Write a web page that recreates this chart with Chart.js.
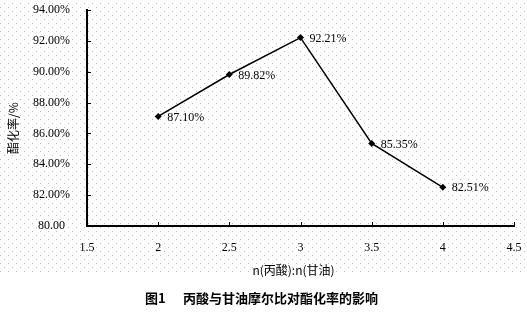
<!DOCTYPE html>
<html>
<head>
<meta charset="utf-8">
<script src="https://cdn.jsdelivr.net/npm/chart.js@4.4.0/dist/chart.umd.min.js"></script>
<style>
html,body{margin:0;padding:0;background:#fff;}
#wrap{width:527px;height:312px;position:relative;}
</style>
</head>
<body>
<div id="wrap"><canvas id="c" width="527" height="312"></canvas></div>
<script>
// ---- data ----
const ratios = [2, 2.5, 3, 3.5, 4];
const esterRate = [87.10, 89.82, 92.21, 85.35, 82.51];
const pointLabels = ['87.10%', '89.82%', '92.21%', '85.35%', '82.51%'];
const xTickLabels = {1.5:'1.5', 2:'2', 2.5:'2.5', 3:'3', 3.5:'3.5', 4:'4', 4.5:'4.5'};
const yTickLabels = {80:'80.00', 82:'82.00%', 84:'84.00%', 86:'86.00%', 88:'88.00%', 90:'90.00%', 92:'92.00%', 94:'94.00%'};
const xTitle = 'n(丙酸):n(甘油)';
const yTitle = '酯化率/%';
const captionNo = '图1';
const captionText = '丙酸与甘油摩尔比对酯化率的影响';

const numFamily = '"Liberation Serif", serif';
const numFont = {family: numFamily, size: 12};
const cjk = '"Noto Sans CJK SC", sans-serif';

const decor = {
  id: 'decor',
  beforeDraw(chart) {
    const ctx = chart.ctx;
    ctx.save();
    ctx.fillStyle = '#b8b8b8';
    for (let y = 3, k = -1; y <= 271; y += 4, k++) {
      const off = ((k % 2) + 2) % 2 === 0 ? 0 : 4;
      for (let x = off; x < 527; x += 8) ctx.fillRect(x, y, 1, 1);
    }
    ctx.restore();
  },
  afterDraw(chart) {
    const ctx = chart.ctx;
    const xs = chart.scales.x, ys = chart.scales.y;
    const ca = chart.chartArea;
    ctx.save();
    ctx.strokeStyle = '#000';
    ctx.lineWidth = 1;
    ys.ticks.forEach(t => {
      const py = Math.round(ys.getPixelForValue(t.value)) + 0.5;
      ctx.beginPath(); ctx.moveTo(ca.left, py); ctx.lineTo(ca.left + 4, py); ctx.stroke();
    });
    xs.ticks.forEach(t => {
      const px = Math.round(xs.getPixelForValue(t.value)) + 0.5;
      ctx.beginPath(); ctx.moveTo(px, ca.bottom); ctx.lineTo(px, ca.bottom - 4); ctx.stroke();
    });
    ctx.fillStyle = '#000';
    ctx.font = '12px ' + numFamily;
    ctx.textAlign = 'left';
    ctx.textBaseline = 'middle';
    const meta = chart.getDatasetMeta(0);
    meta.data.forEach((pt, i) => {
      ctx.fillText(pointLabels[i], pt.x + 9, pt.y + 1);
    });
    ctx.font = '12px ' + cjk;
    ctx.textAlign = 'center';
    ctx.fillText(xTitle, (ca.left + ca.right) / 2 - 7, 270);
    ctx.save();
    ctx.translate(13, 128);
    ctx.rotate(-Math.PI / 2);
    ctx.fillText(yTitle, 0, 0);
    ctx.restore();
    ctx.font = 'bold 13px ' + cjk;
    ctx.textAlign = 'left';
    ctx.fillText(captionNo, 145, 298);
    ctx.fillText(captionText, 183, 298);
    ctx.restore();
  }
};

new Chart(document.getElementById('c'), {
  type: 'line',
  data: {
    datasets: [{
      data: ratios.map((r, i) => ({x: r, y: esterRate[i]})),
      borderColor: '#000',
      backgroundColor: '#000',
      borderWidth: 1.5,
      pointStyle: 'rectRot',
      pointRadius: 3.5,
      pointBorderWidth: 0,
      tension: 0,
      clip: false
    }]
  },
  options: {
    responsive: false,
    animation: false,
    devicePixelRatio: 1,
    layout: {padding: {top: 10, right: 13, left: 0, bottom: 0}},
    plugins: {legend: {display: false}, tooltip: {enabled: false}},
    scales: {
      x: {
        type: 'linear', min: 1.5, max: 4.5,
        afterFit(s) { s.height = 86; s.paddingLeft = 0; s.paddingRight = 0; },
        border: {display: true, color: '#000', width: 2},
        grid: {display: true, drawOnChartArea: false, drawTicks: false, color: 'rgba(0,0,0,0)'},
        ticks: {stepSize: 0.5, padding: 15, color: '#000', font: numFont,
                callback: v => xTickLabels[v] !== undefined ? xTickLabels[v] : ''}
      },
      y: {
        min: 80, max: 94,
        afterFit(s) { s.width = 87; s.paddingTop = 0; s.paddingBottom = 0; },
        border: {display: true, color: '#000', width: 2},
        grid: {display: true, drawOnChartArea: false, drawTicks: false, color: 'rgba(0,0,0,0)'},
        ticks: {stepSize: 2, padding: 17, crossAlign: 'center', color: '#000', font: numFont,
                callback: v => yTickLabels[v] !== undefined ? yTickLabels[v] : ''}
      }
    }
  },
  plugins: [decor]
});
</script>
</body>
</html>
